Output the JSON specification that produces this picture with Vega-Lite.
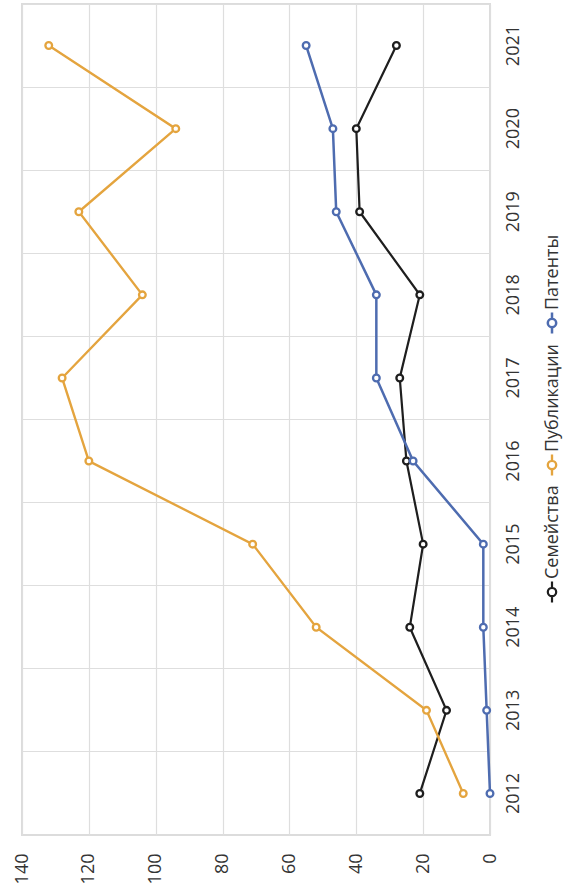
{
  "$schema": "https://vega.github.io/schema/vega-lite/v6.json",
  "width": 468,
  "height": 831,
  "autosize": {"type": "none"},
  "padding": {"left": 22, "top": 4, "right": 74, "bottom": 54},
  "config": {
    "font": "Open Sans",
    "view": {"stroke": "#dcdcdc", "strokeWidth": 2},
    "axis": {
      "gridColor": "#dedede",
      "gridWidth": 1.2,
      "domain": false,
      "ticks": false,
      "labelFont": "Open Sans",
      "labelFontSize": 18,
      "labelColor": "#333333"
    }
  },
  "data": {
    "values": [
      {"year": 2012, "series": "Семейства", "value": 21},
      {"year": 2013, "series": "Семейства", "value": 13},
      {"year": 2014, "series": "Семейства", "value": 24},
      {"year": 2015, "series": "Семейства", "value": 20},
      {"year": 2016, "series": "Семейства", "value": 25},
      {"year": 2017, "series": "Семейства", "value": 27},
      {"year": 2018, "series": "Семейства", "value": 21},
      {"year": 2019, "series": "Семейства", "value": 39},
      {"year": 2020, "series": "Семейства", "value": 40},
      {"year": 2021, "series": "Семейства", "value": 28},
      {"year": 2012, "series": "Публикации", "value": 8},
      {"year": 2013, "series": "Публикации", "value": 19},
      {"year": 2014, "series": "Публикации", "value": 52},
      {"year": 2015, "series": "Публикации", "value": 71},
      {"year": 2016, "series": "Публикации", "value": 120},
      {"year": 2017, "series": "Публикации", "value": 128},
      {"year": 2018, "series": "Публикации", "value": 104},
      {"year": 2019, "series": "Публикации", "value": 123},
      {"year": 2020, "series": "Публикации", "value": 94},
      {"year": 2021, "series": "Публикации", "value": 132},
      {"year": 2012, "series": "Патенты", "value": 0},
      {"year": 2013, "series": "Патенты", "value": 1},
      {"year": 2014, "series": "Патенты", "value": 2},
      {"year": 2015, "series": "Патенты", "value": 2},
      {"year": 2016, "series": "Патенты", "value": 23},
      {"year": 2017, "series": "Патенты", "value": 34},
      {"year": 2018, "series": "Патенты", "value": 34},
      {"year": 2019, "series": "Патенты", "value": 46},
      {"year": 2020, "series": "Патенты", "value": 47},
      {"year": 2021, "series": "Патенты", "value": 55}
    ]
  },
  "encoding": {
    "y": {
      "field": "year",
      "type": "ordinal",
      "sort": "descending",
      "scale": {"type": "band", "paddingInner": 0, "paddingOuter": 0},
      "axis": {
        "orient": "right",
        "title": null,
        "grid": true,
        "bandPosition": 0,
        "labelAngle": -90,
        "labelAlign": "center",
        "labelBaseline": "top",
        "labelPadding": 14
      }
    },
    "x": {
      "field": "value",
      "type": "quantitative",
      "scale": {"domain": [0, 140], "reverse": true, "nice": false},
      "axis": {
        "values": [0, 20, 40, 60, 80, 100, 120, 140],
        "title": null,
        "labelAngle": -90,
        "labelAlign": "right",
        "labelBaseline": "middle",
        "labelPadding": 18
      }
    },
    "color": {
      "field": "series",
      "type": "nominal",
      "scale": {
        "domain": ["Патенты", "Публикации", "Семейства"],
        "range": ["#4e6cb0", "#e4a43e", "#1e1e1e"]
      },
      "legend": {
        "orient": "none",
        "legendX": 518,
        "legendY": 307,
        "direction": "vertical",
        "title": null,
        "symbolType": "M0,-1V-0.4M0,0.4V1M0.4,0A0.4,0.4,0,1,1,-0.4,0A0.4,0.4,0,1,1,0.4,0Z",
        "symbolSize": 441,
        "symbolStrokeWidth": 2.6,
        "symbolFillColor": "white",
        "labelFont": "Open Sans",
        "labelFontSize": 18,
        "labelColor": "#333333",
        "labelAlign": "left",
        "labelBaseline": "middle",
        "rowPadding": 4,
        "encoding": {"labels": {"angle": {"value": -90}, "dx": {"value": 13}, "dy": {"value": -15}}}
      }
    }
  },
  "layer": [
    {
      "mark": {"type": "line"},
      "encoding": {
        "order": {"field": "year"},
        "strokeWidth": {
          "field": "series",
          "type": "nominal",
          "scale": {"domain": ["Патенты", "Публикации", "Семейства"], "range": [2.5, 2.2, 3]},
          "legend": null
        }
      }
    },
    {
      "mark": {"type": "point", "filled": false, "fill": "white", "size": 45, "strokeWidth": 2.3, "opacity": 1}
    }
  ]
}
